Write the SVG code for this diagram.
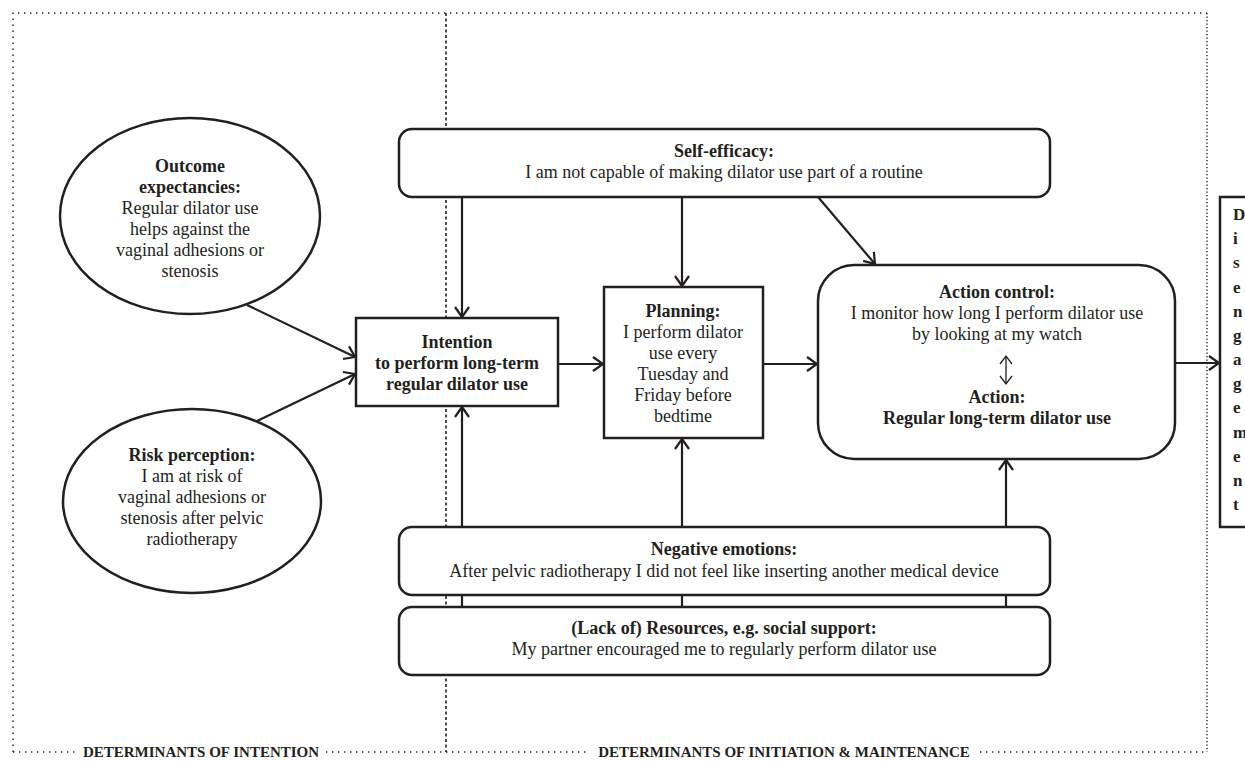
<svg xmlns="http://www.w3.org/2000/svg" width="1245" height="761" viewBox="0 0 1245 761">
<style>
.t{font-family:"Liberation Serif","Times New Roman",serif;font-size:18px;fill:#231f20;text-anchor:middle}
.b{font-weight:bold}
.box{fill:#fff;stroke:#231f20;stroke-width:2.5}
.c{stroke:#231f20;stroke-width:2.2;fill:none}
.dot{stroke:#231f20;stroke-width:1.4;fill:none;stroke-dasharray:1.4 4.6}
.dotd{stroke:#231f20;stroke-width:1.4;fill:none;stroke-dasharray:1.3 2.2}
.dash{stroke:#231f20;stroke-width:1.6;fill:none;stroke-dasharray:3 2.5}
.lbl{font-family:"Liberation Serif","Times New Roman",serif;font-size:15px;font-weight:bold;fill:#231f20;text-anchor:middle}
.dis{font-family:"Liberation Serif","Times New Roman",serif;font-size:17px;font-weight:bold;fill:#231f20}
</style>
<defs>
<marker id="ah" markerUnits="userSpaceOnUse" markerWidth="14" markerHeight="16" refX="11" refY="8" orient="auto">
<path d="M1,1 L11,8 L1,15" fill="none" stroke="#231f20" stroke-width="2.2"/>
</marker>
<marker id="ah2" markerUnits="userSpaceOnUse" markerWidth="12" markerHeight="14" refX="9" refY="7" orient="auto-start-reverse">
<path d="M1,1 L9,7 L1,13" fill="none" stroke="#231f20" stroke-width="1.3"/>
</marker>
</defs>

<g id="frame">
<path class="dot" d="M13,752 L13,13 L1207,13"/>
<path class="dotd" d="M1207,13 L1207,752"/>
<path class="dot" d="M13,752 L76,752"/>
<path class="dot" d="M326,752 L588,752"/>
<path class="dot" d="M980,752 L1207,752"/>
<path class="dash" d="M446,13 L446,752"/>
<text class="lbl" x="201" y="757">DETERMINANTS OF INTENTION</text>
<text class="lbl" x="784" y="757">DETERMINANTS OF INITIATION &amp; MAINTENANCE</text>
</g>

<g id="connectors">
<line class="c" x1="247" y1="305" x2="355" y2="357" marker-end="url(#ah)"/>
<line class="c" x1="257" y1="421" x2="355" y2="374" marker-end="url(#ah)"/>
<line class="c" x1="462" y1="197" x2="462" y2="317" marker-end="url(#ah)"/>
<line class="c" x1="682" y1="197" x2="682" y2="286" marker-end="url(#ah)"/>
<line class="c" x1="818" y1="197" x2="875" y2="264" marker-end="url(#ah)"/>
<line class="c" x1="558" y1="364" x2="603" y2="364" marker-end="url(#ah)"/>
<line class="c" x1="763" y1="364" x2="817" y2="364" marker-end="url(#ah)"/>
<line class="c" x1="1175" y1="363" x2="1219" y2="363" marker-end="url(#ah)"/>
<line class="c" x1="462" y1="527" x2="462" y2="407" marker-end="url(#ah)"/>
<line class="c" x1="682" y1="527" x2="682" y2="439" marker-end="url(#ah)"/>
<line class="c" x1="1006" y1="527" x2="1006" y2="460" marker-end="url(#ah)"/>
<line class="c" x1="462" y1="595" x2="462" y2="607"/>
<line class="c" x1="682" y1="595" x2="682" y2="607"/>
<line class="c" x1="1006" y1="595" x2="1006" y2="607"/>
</g>

<g id="outcome">
<ellipse class="box" cx="190" cy="216" rx="130" ry="98"/>
<text class="t b" x="190" y="172">Outcome</text>
<text class="t b" x="190" y="193">expectancies:</text>
<text class="t" x="190" y="214">Regular dilator use</text>
<text class="t" x="190" y="235">helps against the</text>
<text class="t" x="190" y="256">vaginal adhesions or</text>
<text class="t" x="190" y="277">stenosis</text>
</g>

<g id="risk">
<ellipse class="box" cx="192" cy="501" rx="129" ry="92"/>
<text class="t b" x="192" y="461">Risk perception:</text>
<text class="t" x="192" y="482">I am at risk of</text>
<text class="t" x="192" y="503">vaginal adhesions or</text>
<text class="t" x="192" y="524">stenosis after pelvic</text>
<text class="t" x="192" y="545">radiotherapy</text>
</g>

<g id="selfefficacy">
<rect class="box" x="399" y="129" width="651" height="68" rx="13"/>
<text class="t b" x="724" y="157">Self-efficacy:</text>
<text class="t" x="724" y="178">I am not capable of making dilator use part of a routine</text>
</g>

<g id="intention">
<rect class="box" x="356" y="318" width="202" height="88"/>
<text class="t b" x="457" y="348">Intention</text>
<text class="t b" x="457" y="369">to perform long-term</text>
<text class="t b" x="457" y="390">regular dilator use</text>
</g>

<g id="planning">
<rect class="box" x="604" y="287" width="159" height="151"/>
<text class="t b" x="683" y="317">Planning:</text>
<text class="t" x="683" y="338">I perform dilator</text>
<text class="t" x="683" y="359">use every</text>
<text class="t" x="683" y="380">Tuesday and</text>
<text class="t" x="683" y="401">Friday before</text>
<text class="t" x="683" y="422">bedtime</text>
</g>

<g id="action">
<rect class="box" x="818" y="265" width="357" height="194" rx="36"/>
<text class="t b" x="997" y="298">Action control:</text>
<text class="t" x="997" y="319">I monitor how long I perform dilator use</text>
<text class="t" x="997" y="340">by looking at my watch</text>
<line x1="1006" y1="356" x2="1006" y2="384" stroke="#231f20" stroke-width="1.3" marker-start="url(#ah2)" marker-end="url(#ah2)"/>
<text class="t b" x="997" y="403">Action:</text>
<text class="t b" x="997" y="424">Regular long-term dilator use</text>
</g>

<g id="negative">
<rect class="box" x="399" y="527" width="651" height="68" rx="13"/>
<text class="t b" x="724" y="555">Negative emotions:</text>
<text class="t" x="724" y="577">After pelvic radiotherapy I did not feel like inserting another medical device</text>
</g>

<g id="resources">
<rect class="box" x="399" y="607" width="651" height="68" rx="13"/>
<text class="t b" x="724" y="634">(Lack of) Resources, e.g. social support:</text>
<text class="t" x="724" y="655">My partner encouraged me to regularly perform dilator use</text>
</g>

<g id="disengagement">
<rect class="box" x="1220" y="197" width="40" height="330"/>
<text class="dis" x="1233" y="220">D</text>
<text class="dis" x="1233" y="244">i</text>
<text class="dis" x="1233" y="268">s</text>
<text class="dis" x="1233" y="293">e</text>
<text class="dis" x="1233" y="317">n</text>
<text class="dis" x="1233" y="341">g</text>
<text class="dis" x="1233" y="365">a</text>
<text class="dis" x="1233" y="389">g</text>
<text class="dis" x="1233" y="413">e</text>
<text class="dis" x="1233" y="438">m</text>
<text class="dis" x="1233" y="462">e</text>
<text class="dis" x="1233" y="486">n</text>
<text class="dis" x="1233" y="510">t</text>
</g>
</svg>
